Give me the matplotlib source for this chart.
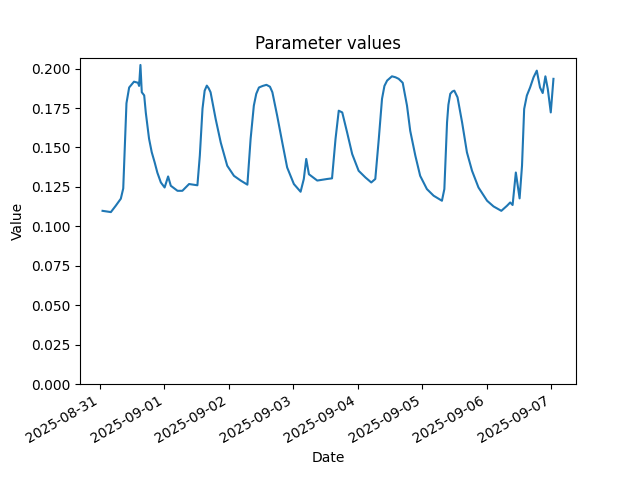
import os

os.environ.setdefault("MPLCONFIGDIR", "/tmp/matplotlib")

import matplotlib
matplotlib.use("Agg")
import matplotlib.pyplot as plt
import pandas as pd

# hours since 2025-08-31 00:00
hours = [
    1.0, 4.1, 5.9, 7.8, 8.7, 9.4, 9.9, 10.9, 12.7, 14.2, 14.6, 15.1, 15.6,
    16.5, 17.1, 18.3, 19.3, 20.4, 21.4, 22.7, 24.1, 25.4, 26.4, 28.9, 30.7,
    33.2, 36.3, 37.2, 38.2, 39.0, 39.8, 40.5, 41.2, 43.1, 45.0, 47.4, 49.9,
    52.4, 54.9, 56.1, 57.3, 58.2, 59.2, 60.6, 62.0, 63.3, 64.2, 66.0, 67.9,
    69.7, 72.2, 74.7, 75.9, 76.8, 77.8, 80.9, 84.6, 86.4, 87.7, 88.9, 90.2,
    92.0, 93.9, 96.3, 98.8, 101.0, 102.5, 103.8, 105.0, 105.9, 106.9, 108.7,
    110.0, 111.2, 112.7, 114.3, 115.5, 117.4, 119.2, 121.7, 124.2, 127.3,
    128.2, 129.2, 129.7, 130.4, 131.2, 131.9, 133.1, 134.8, 136.6, 138.5,
    140.9, 144.1, 146.5, 149.4, 151.5, 152.7, 153.6, 154.8, 156.2, 157.1,
    157.9, 158.9, 160.1, 161.4, 162.6, 163.8, 164.8, 165.8, 166.7, 167.8,
    168.8,
]
values = [
    0.1098, 0.1090, 0.1130, 0.1175, 0.1240, 0.1556, 0.1780, 0.1880, 0.1917,
    0.1910, 0.1890, 0.2023, 0.1850, 0.1830, 0.1720, 0.1556, 0.1470, 0.1405,
    0.1340, 0.1278, 0.1246, 0.1316, 0.1257, 0.1225, 0.1225, 0.1268, 0.1260,
    0.1448, 0.1746, 0.1860, 0.1892, 0.1875, 0.1850, 0.1680, 0.1530, 0.1384,
    0.1320, 0.1290, 0.1264, 0.1554, 0.1765, 0.1840, 0.1880, 0.1890, 0.1897,
    0.1885, 0.1850, 0.1700, 0.1530, 0.1373, 0.1268, 0.1219, 0.1300, 0.1427,
    0.1330, 0.1290, 0.1300, 0.1304, 0.1554, 0.1733, 0.1722, 0.1596, 0.1458,
    0.1352, 0.1310, 0.1278, 0.1300, 0.1554, 0.1808, 0.1890, 0.1924, 0.1951,
    0.1945, 0.1935, 0.1910, 0.1765, 0.1605, 0.1448, 0.1320, 0.1236, 0.1194,
    0.1162, 0.1236, 0.1659, 0.1770, 0.1840, 0.1855, 0.1860, 0.1818, 0.1659,
    0.1469, 0.1352, 0.1246, 0.1162, 0.1126, 0.1098, 0.1130, 0.1151, 0.1135,
    0.1341, 0.1177, 0.1384, 0.1744, 0.1829, 0.1880, 0.1945, 0.1987, 0.1880,
    0.1845, 0.1951, 0.1870, 0.1722, 0.1935,
]

dates = pd.Timestamp("2025-08-31") + pd.to_timedelta(hours, unit="h")

fig, ax = plt.subplots(figsize=(6.4, 4.8))
ax.plot(dates, values)
ax.set_ylim(bottom=0)
ax.set_title("Parameter values")
ax.set_xlabel("Date")
ax.set_ylabel("Value")
fig.autofmt_xdate()
fig.savefig("out.png", dpi=100)
plt.close(fig)
